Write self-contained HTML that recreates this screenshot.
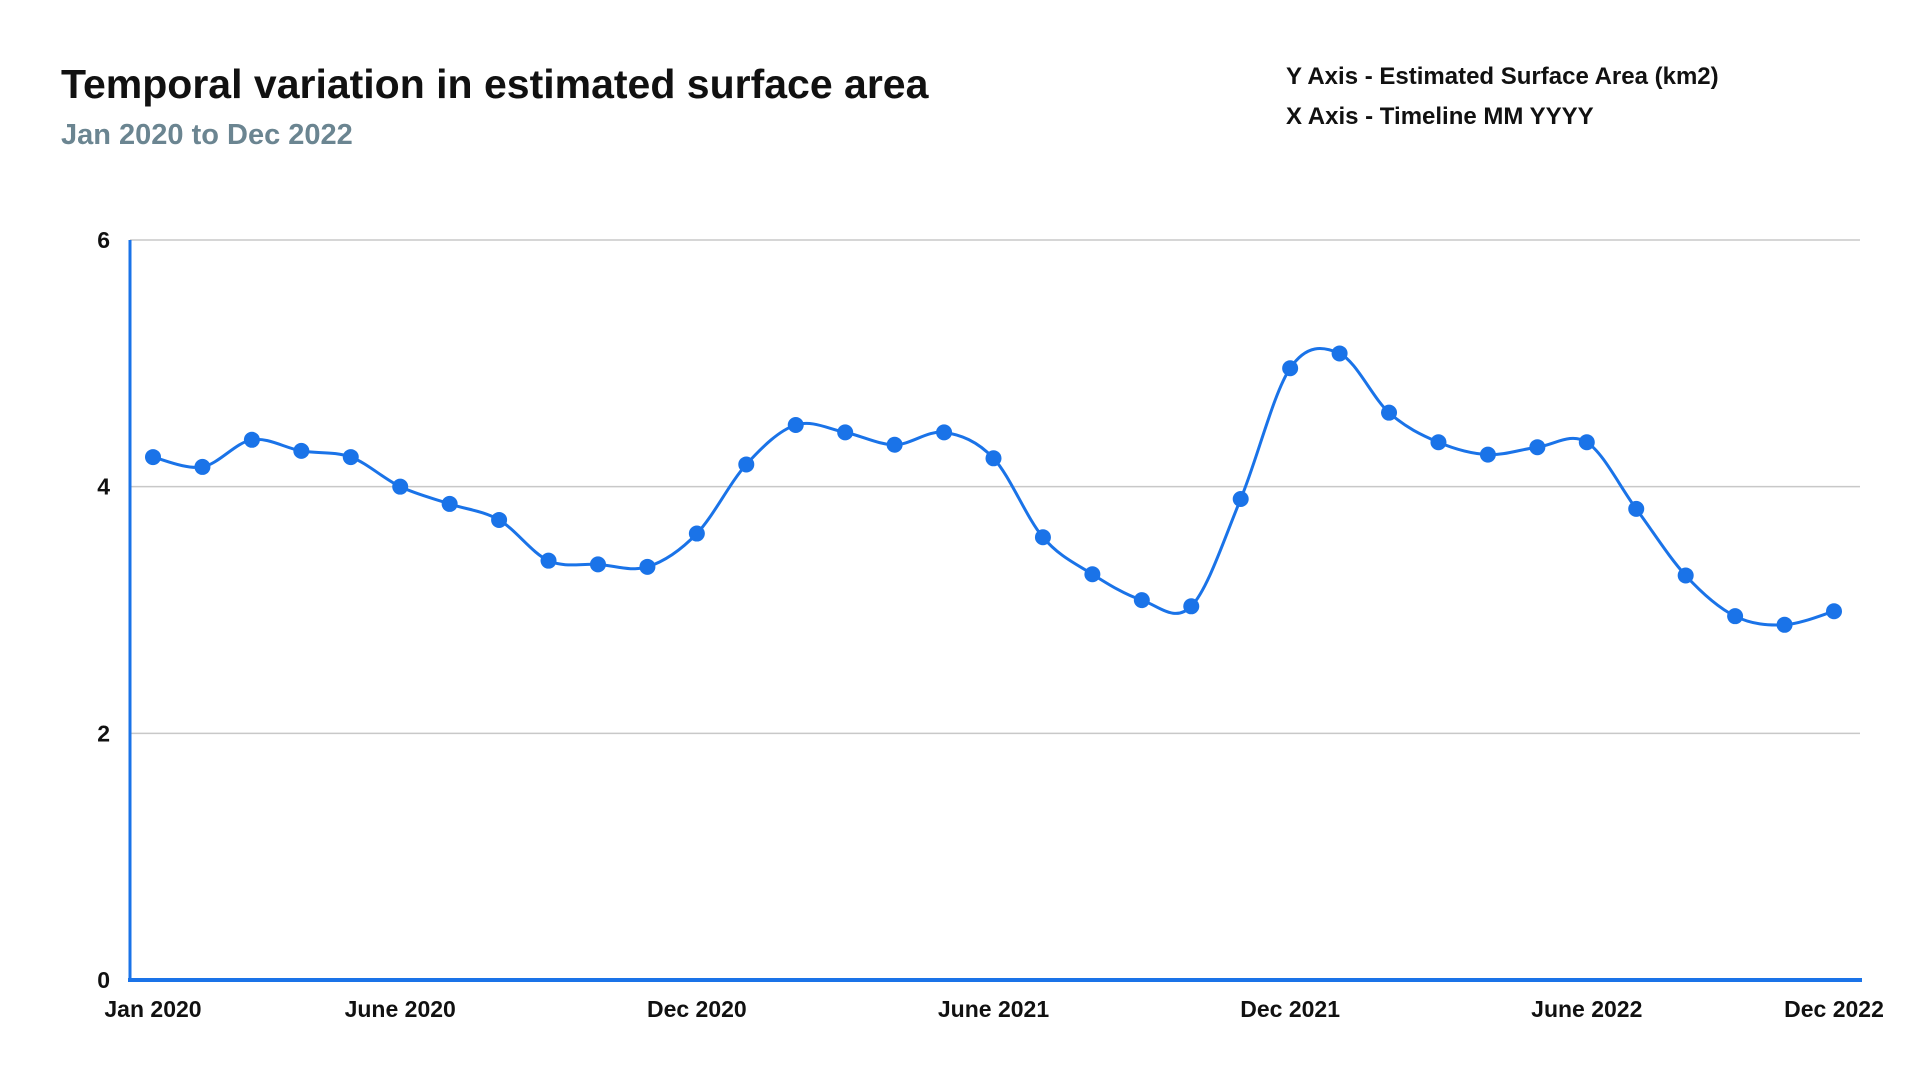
<!DOCTYPE html>
<html><head><meta charset="utf-8"><style>
body{margin:0;background:#fff;width:1920px;height:1080px;overflow:hidden;font-family:"Liberation Sans",sans-serif}
</style></head><body>
<svg width="1920" height="1080">
<text x="61" y="98" font-size="41" font-weight="bold" fill="#111">Temporal variation in estimated surface area</text>
<text x="61" y="144" font-size="29" font-weight="bold" fill="#6b8591">Jan 2020 to Dec 2022</text>
<text x="1286" y="84" font-size="24" font-weight="bold" fill="#111">Y Axis - Estimated Surface Area (km2)</text>
<text x="1286" y="124" font-size="24" font-weight="bold" fill="#111">X Axis - Timeline MM YYYY</text>
<g id="grid"></g><g id="plot"></g>
</svg>
<script>
const categories=["Jan 2020","","","","","June 2020","","","","","","Dec 2020","","","","","","June 2021","","","","","","Dec 2021","","","","","","June 2022","","","","","Dec 2022"];
const values=[4.24,4.16,4.38,4.29,4.24,4.0,3.86,3.73,3.40,3.37,3.35,3.62,4.18,4.50,4.44,4.34,4.44,4.23,3.59,3.29,3.08,3.03,3.90,4.96,5.08,4.60,4.36,4.26,4.32,4.36,3.82,3.28,2.95,2.88,2.99];
const yTicks=[0,2,4,6];
const NS="http://www.w3.org/2000/svg";
const x0=153,x1=1834,yb=980,yt=240,ymax=6;
const xs=i=>x0+(x1-x0)*i/(values.length-1);
const ys=v=>yb-(yb-yt)*v/ymax;
const grid=document.getElementById('grid'),plot=document.getElementById('plot');
function mk(t,a,p){const e=document.createElementNS(NS,t);for(const k in a)e.setAttribute(k,a[k]);p.appendChild(e);return e;}
yTicks.forEach(v=>{
  if(v>0){const l=mk('line',{x1:130,x2:1860,y1:ys(v),y2:ys(v),stroke:'#c8c8c8','stroke-width':1.5},grid);
  
  }
  const t=mk('text',{x:110,y:ys(v)+8,'font-size':23,'font-weight':'bold','text-anchor':'end',fill:'#111'},grid);
  t.textContent=v;
  
  
});
const ax=mk('line',{x1:130,x2:130,y1:240,y2:981,stroke:'#1a73e8','stroke-width':3},grid);


const bx=mk('line',{x1:128,x2:1862,y1:980,y2:980,stroke:'#1a73e8','stroke-width':4},grid);


categories.forEach((c,i)=>{if(!c)return;
  const t=mk('text',{x:xs(i),y:1017,'font-size':23,'font-weight':'bold','text-anchor':'middle',fill:'#111'},grid);
  t.textContent=c;
  
  
});
const P=values.map((v,i)=>[xs(i),ys(v)]);
let d='M'+P[0][0]+','+P[0][1];
for(let i=0;i<P.length-1;i++){
  const p0=P[Math.max(0,i-1)],p1=P[i],p2=P[i+1],p3=P[Math.min(P.length-1,i+2)];
  const c1=[p1[0]+(p2[0]-p0[0])/6,p1[1]+(p2[1]-p0[1])/6],c2=[p2[0]-(p3[0]-p1[0])/6,p2[1]-(p3[1]-p1[1])/6];
  d+=` C${c1[0]},${c1[1]} ${c2[0]},${c2[1]} ${p2[0]},${p2[1]}`;
}
const path=mk('path',{d:d,fill:'none',stroke:'#1a73e8','stroke-width':3},plot);


P.forEach((p,i)=>{
  const c=mk('circle',{cx:p[0],cy:p[1],r:8,fill:'#1a73e8'},plot);
  
  
});
</script>
</body></html>
